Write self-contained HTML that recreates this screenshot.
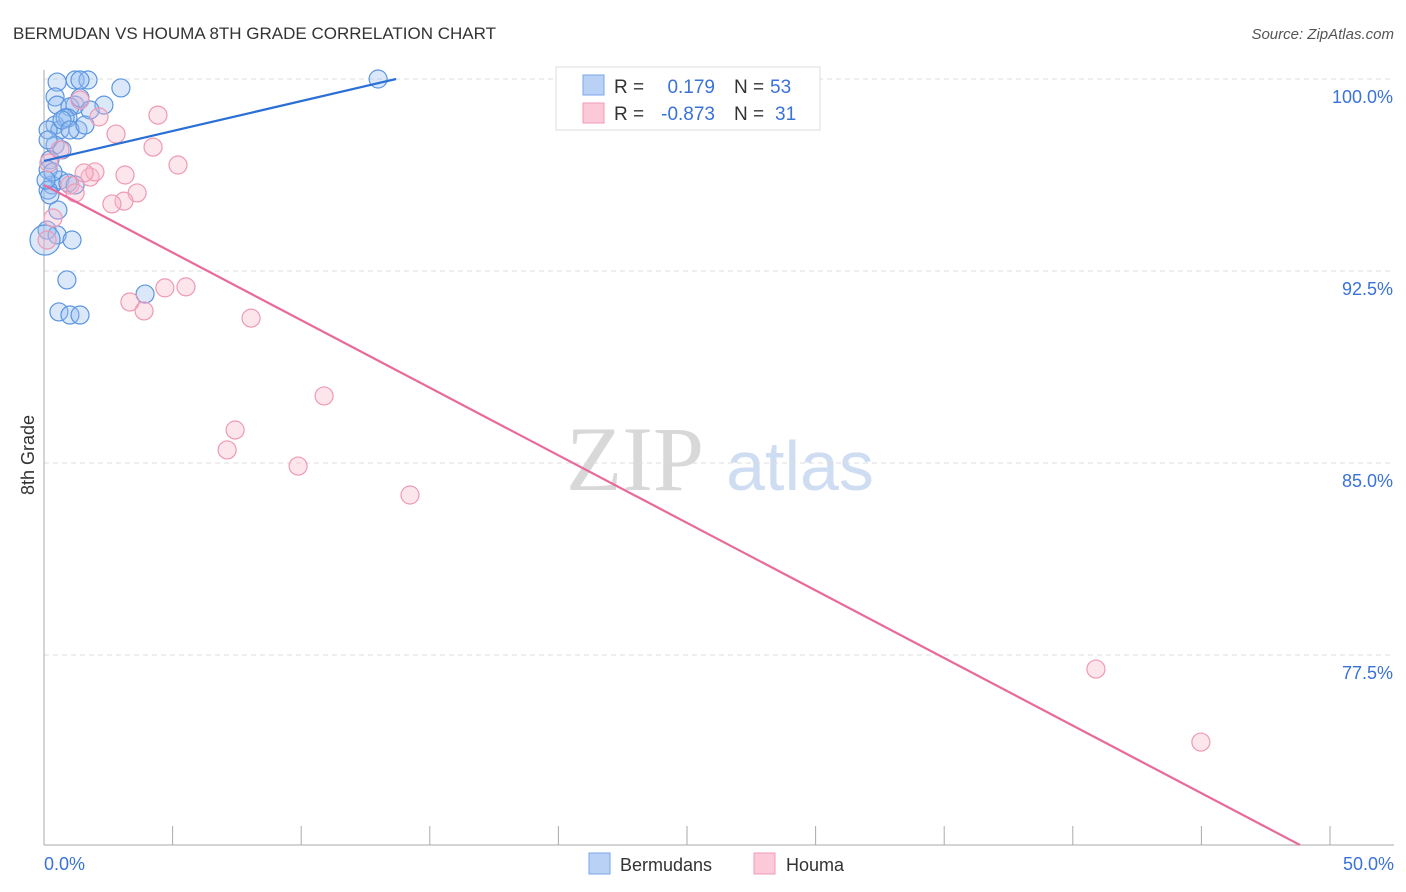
<!DOCTYPE html>
<html><head><meta charset="utf-8"><style>
body{margin:0;background:#fff;font-family:"Liberation Sans",sans-serif;}
svg{display:block}
</style></head><body>
<svg id="c" width="1406" height="892" xmlns="http://www.w3.org/2000/svg">
<text x="13" y="39" font-size="17" fill="#333">BERMUDAN VS HOUMA 8TH GRADE CORRELATION CHART</text>
<text x="1394" y="39" font-size="15" fill="#555" text-anchor="end" font-style="italic">Source: ZipAtlas.com</text>
<text x="635" y="490" font-size="92" fill="#d8d8d8" text-anchor="middle" font-family="Liberation Serif,serif">ZIP</text>
<text x="800" y="490" font-size="70" fill="#cfddf3" text-anchor="middle">atlas</text>
<g id="grid"></g>
<line x1="44" y1="70" x2="44" y2="845" stroke="#aaa"/>
<line x1="44" y1="845" x2="1394" y2="845" stroke="#aaa"/>
<g id="xt"></g>
<text x="44" y="870" font-size="18" fill="#3a72d8">0.0%</text>
<text x="1394" y="870" font-size="18" fill="#3a72d8" text-anchor="end">50.0%</text>
<text x="34" y="455" font-size="18" fill="#333" text-anchor="middle" transform="rotate(-90 34 455)">8th Grade</text>
<g id="pts"></g>
<g id="lines"></g>
<g>
<rect x="556" y="67" width="264" height="63" fill="#fff" stroke="#ddd"/>
<rect x="583" y="75" width="21" height="20" fill="#b9d1f5" stroke="#7aa6e8"/>
<rect x="583" y="103" width="21" height="20" fill="#fbc9d8" stroke="#f09ab6"/>
<text x="614" y="93" font-size="19" fill="#333">R =</text>
<text x="715" y="93" font-size="19" fill="#3a72d8" text-anchor="end">0.179</text>
<text x="734" y="93" font-size="19" fill="#333">N =</text>
<text x="770" y="93" font-size="19" fill="#3a72d8">53</text>
<text x="614" y="120" font-size="19" fill="#333">R =</text>
<text x="715" y="120" font-size="19" fill="#3a72d8" text-anchor="end">-0.873</text>
<text x="734" y="120" font-size="19" fill="#333">N =</text>
<text x="775" y="120" font-size="19" fill="#3a72d8">31</text>
</g>
<g>
<rect x="589" y="853" width="21" height="21" fill="#b9d1f5" stroke="#7aa6e8"/>
<text x="620" y="871" font-size="18" fill="#333">Bermudans</text>
<rect x="754" y="853" width="21" height="21" fill="#fbc9d8" stroke="#f09ab6"/>
<text x="786" y="871" font-size="18" fill="#333">Houma</text>
</g>
</svg>
<script>
const yTicks=[100,92.5,85,77.5];
const yTickLabels=["100.0%","92.5%","85.0%","77.5%"];
const xTicks=[0,5,10,15,20,25,30,35,40,45,50];
const blueX=[0.51,1.21,1.71,1.40,2.99,0.43,0.51,1.21,2.33,1.01,1.40,0.43,0.62,1.32,0.93,0.16,0.43,0.70,0.23,0.31,0.62,0.93,0.16,0.23,0.54,0.12,0.51,1.09,0.89,3.93,0.58,1.01,1.40,12.99,0.82,0.16,0.35,0.04,0.16,0.70,1.79,1.21,1.01,1.59,0.08];
const blueY=[99.88,99.96,99.96,99.96,99.65,99.30,98.98,98.98,98.98,98.91,99.26,98.20,98.01,98.01,98.48,98.01,97.42,97.23,96.84,95.86,96.05,95.94,95.66,95.47,94.88,94.10,93.91,93.71,92.15,91.60,90.90,90.78,90.78,100.0,98.48,96.45,96.37,93.71,97.62,98.40,98.79,95.86,98.01,98.20,96.05];
const pinkX=[0.19,0.35,0.12,0.62,1.01,1.21,1.40,2.14,2.80,4.43,4.24,5.21,1.79,1.98,3.15,3.62,3.11,2.64,3.34,3.89,4.70,5.52,8.05,10.89,7.43,7.12,9.88,14.23,40.90,44.98,1.56];
const pinkY=[96.72,94.57,93.71,97.23,95.86,95.55,99.18,98.52,97.85,98.59,97.34,96.64,96.17,96.37,96.25,95.55,95.23,95.12,91.29,90.94,91.84,91.88,90.66,87.62,86.29,85.51,84.88,83.75,76.95,74.10,96.33];
const blueLineX=[0,13.69], blueLineY=[96.80,100];
const pinkLineX=[0,48.83], pinkLineY=[95.86,70.08];
const X=v=>44+v/50*1286, Y=v=>79+(100-v)/7.5*192;
const NS="http://www.w3.org/2000/svg";
function mk(t,a,p){const e=document.createElementNS(NS,t);for(const k in a)e.setAttribute(k,a[k]);p.appendChild(e);return e;}
const grid=document.getElementById('grid');
yTicks.forEach((t,i)=>{
 const l=mk('line',{x1:44,x2:1394,y1:Y(t),y2:Y(t),stroke:'#ddd','stroke-dasharray':'5,4'},grid);
 
 
 const tx=mk('text',{x:1393,y:Y(t)+24,'font-size':18,fill:'#3a72d8','text-anchor':'end'},grid);
 tx.textContent=yTickLabels[i];
 
 
});
const xt=document.getElementById('xt');
xTicks.forEach(t=>{
 const l=mk('line',{x1:X(t),x2:X(t),y1:826,y2:845,stroke:'#aaa'},xt);
 
 
});
const pts=document.getElementById('pts');
blueX.forEach((x,i)=>{
 const c=mk('circle',{cx:X(x),cy:Y(blueY[i]),r:i==37?15:9,fill:'rgba(150,190,240,0.35)',stroke:'#5b95e0','stroke-width':1.2},pts);
 
 
});
pinkX.forEach((x,i)=>{
 const c=mk('circle',{cx:X(x),cy:Y(pinkY[i]),r:9,fill:'rgba(248,180,200,0.35)',stroke:'#ee9ab4','stroke-width':1.2},pts);
 
 
});
const lines=document.getElementById('lines');
const bl=mk('line',{x1:X(blueLineX[0]),y1:Y(blueLineY[0]),x2:X(blueLineX[1]),y2:Y(blueLineY[1]),stroke:'#2a6fd6','stroke-width':2.2},lines);


const pl=mk('line',{x1:X(pinkLineX[0]),y1:Y(pinkLineY[0]),x2:X(pinkLineX[1]),y2:Y(pinkLineY[1]),stroke:'#e8699a','stroke-width':2.2},lines);


</script>
</body></html>
